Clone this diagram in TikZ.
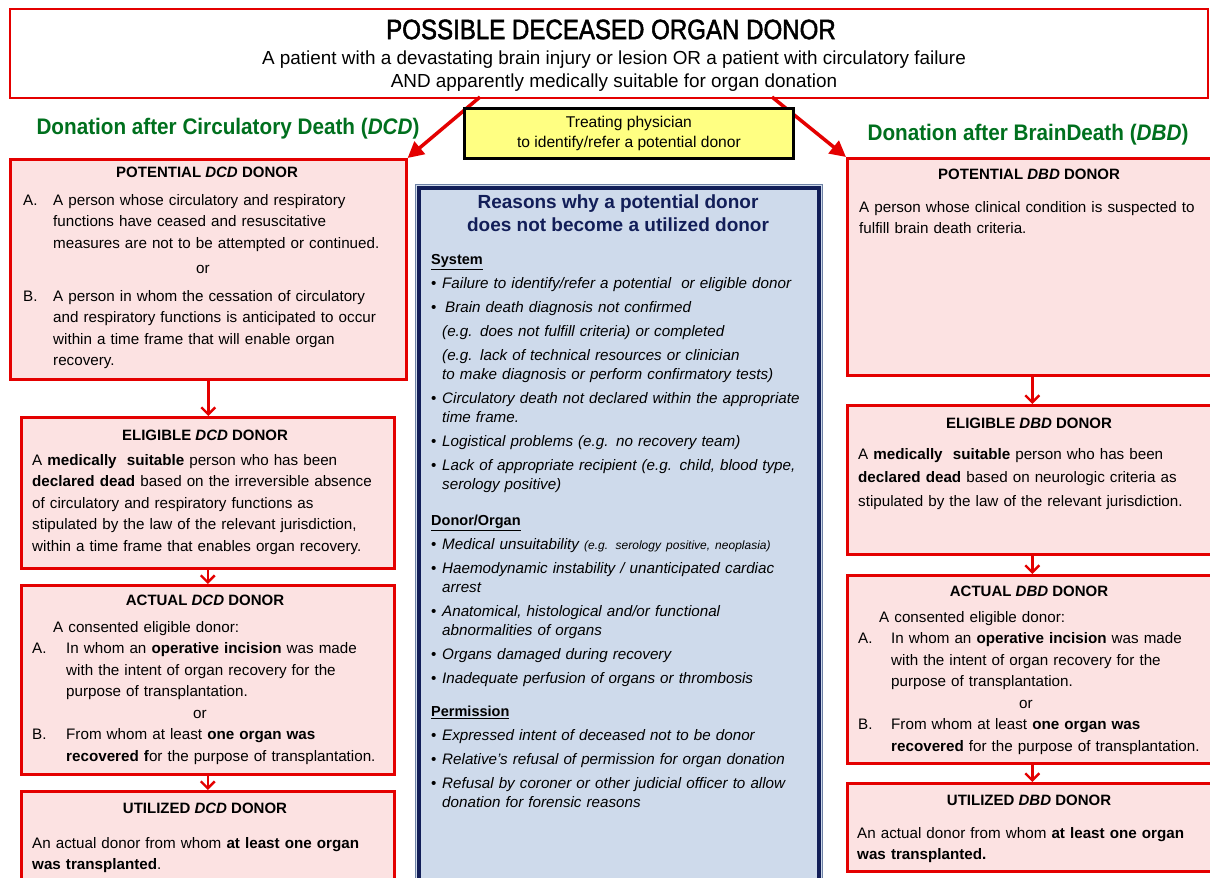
\documentclass[tikz,border=0pt]{standalone}
\usepackage{fontspec}
\setmainfont{Liberation Sans}
\newfontfamily\titlesans{Liberation Sans}[FakeStretch=0.86,FakeBold=1.8]
\newfontfamily\headsans{Liberation Sans}[FakeStretch=0.92]
\usetikzlibrary{arrows.meta,positioning}

\definecolor{donorred}{RGB}{228,0,0}
\definecolor{donorpink}{RGB}{252,226,226}
\definecolor{headgreen}{RGB}{0,112,30}
\definecolor{reasonnavy}{RGB}{18,30,88}
\definecolor{reasonfill}{RGB}{206,218,235}
\definecolor{reasonedge}{RGB}{110,130,165}
\definecolor{physyellow}{RGB}{255,255,130}

\newcommand{\lettered}[2]{\hangindent=#1\hangafter=1\noindent\makebox[#1][l]{#2}}
\newcommand{\bulletpar}{\hangindent=11pt\hangafter=1\noindent\makebox[11pt][l]{\textup{•}}}
\newcommand{\reasonhead}[1]{\noindent{\fontsize{14.5}{19}\selectfont\upshape\bfseries\underline{#1}}\par}

\tikzset{
  donorbox/.style={draw=donorred, line width=2.6pt, fill=donorpink, inner sep=0pt, anchor=north west},
  donortitle/.style={font=\fontsize{15}{18}\selectfont\bfseries, inner sep=0pt},
  donortext/.style={font=\fontsize{15.2}{21.5}\selectfont, inner sep=0pt, anchor=north west, align=left, text width=400pt,
    execute at begin node={\setlength{\parindent}{0pt}\setlength{\parskip}{0pt}}},
  reasontext/.style={font=\fontsize{15.2}{19}\selectfont\itshape, inner sep=0pt, anchor=north west, align=left, text width=392pt,
    execute at begin node={\setlength{\parindent}{0pt}\setlength{\parskip}{5pt}}},
  heading/.style={font=\headsans\fontsize{22.5}{26}\selectfont\bfseries, text=headgreen, inner sep=0pt},
  flowarrow/.style={draw=donorred, line width=2.4pt, -{Straight Barb[length=7pt,width=14pt]}},
  forkarrow/.style={draw=donorred, line width=3.5pt, -{Triangle[length=16pt,width=16pt]}}
}

\begin{document}
\begin{tikzpicture}[x=1pt, y=-1pt]
    \useasboundingbox (0,0) rectangle (1210,878);
    \fill [white] (0,0) rectangle (1210,878);

    \node [draw=donorred, line width=2.4pt, fill=white, minimum width=1198pt, minimum height=89pt, anchor=north west, inner sep=0pt] (possible) at (9,8) {};
    \node [font=\titlesans\fontsize{28}{30}\selectfont, inner sep=0pt] (possibletitle) at (611,29.5) {POSSIBLE DECEASED ORGAN DONOR};
    \node [font=\fontsize{18.9}{23}\selectfont, align=center, inner sep=0pt] (possibletext) at (614,71.5) {A patient with a devastating brain injury or lesion OR a patient with circulatory failure\\AND apparently medically suitable for organ donation};

    \node [heading] (dcdhead) at (228,129) {Donation after Circulatory Death (\textit{DCD})};
    \node [heading] (dbdhead) at (1028,135) {Donation after BrainDeath (\textit{DBD})};

    \node [donorbox, minimum width=396pt, minimum height=220pt] (pdcd) at (9,158) {};
    \node [donorbox, minimum width=373pt, minimum height=151pt] (edcd) at (20,416) {};
    \node [donorbox, minimum width=373pt, minimum height=189pt] (adcd) at (20,584) {};
    \node [donorbox, minimum width=373pt, minimum height=110pt] (udcd) at (20,790) {};

    \node [donorbox, minimum width=370pt, minimum height=217pt] (pdbd) at (846,157) {};
    \node [donorbox, minimum width=370pt, minimum height=149pt] (edbd) at (846,404) {};
    \node [donorbox, minimum width=370pt, minimum height=188pt] (adbd) at (846,574) {};
    \node [donorbox, minimum width=370pt, minimum height=88pt] (udbd) at (846,782) {};

    \draw [flowarrow] (pdcd.south) -- (pdcd.south |- edcd.north);
    \draw [flowarrow] (edcd.south) -- (edcd.south |- adcd.north);
    \draw [flowarrow] (adcd.south) -- (adcd.south |- udcd.north);
    \draw [flowarrow] (pdbd.south) -- (pdbd.south |- edbd.north);
    \draw [flowarrow] (edbd.south) -- (edbd.south |- adbd.north);
    \draw [flowarrow] (adbd.south) -- (adbd.south |- udbd.north);

    \coordinate (dcdfork) at (480,97);
    \coordinate (dbdfork) at (772,97);
    \draw [forkarrow] (dcdfork) -- (pdcd.north east);
    \draw [forkarrow] (dbdfork) -- (pdbd.north west);

    \node [draw=black, line width=2.8pt, fill=physyellow, minimum width=329pt, minimum height=50pt, anchor=north west, inner sep=0pt, align=center, font=\fontsize{15.6}{20}\selectfont] (physician) at (463,107) {Treating physician\\to identify/refer a potential donor};

    \node [draw=reasonedge, line width=1.2pt, fill=reasonfill, minimum width=407pt, minimum height=720pt, anchor=north west, inner sep=0pt] (reasons) at (415,184) {};
    \draw [reasonnavy, line width=4pt] ([shift={(4,4)}]reasons.north west) rectangle ([shift={(-4,-4)}]reasons.south east);
    \node [font=\fontsize{19}{23}\selectfont\bfseries, text=reasonnavy, align=center, inner sep=0pt] (reasonstitle) at (618,213) {Reasons why a potential donor\\does not become a utilized donor};

    \node [donortitle] (pdcdtitle) at (207,172) {POTENTIAL \textit{DCD} DONOR};
    \node [donortext] (pdcdtext) at (23,194) {%
        \lettered{30pt}{A.}A person whose circulatory and respiratory\newline functions have ceased and resuscitative\newline measures are not to be attempted or continued.\par
        \vspace{4pt}\hspace*{173pt}or\par
        \vspace{6pt}\lettered{30pt}{B.}A person in whom the cessation of circulatory\newline and respiratory functions is anticipated to occur\newline within a time frame that will enable organ\newline recovery.\par};

    \node [donortitle] (edcdtitle) at (205,435) {ELIGIBLE \textit{DCD} DONOR};
    \node [donortext] (edcdtext) at (32,454) {A \textbf{medically\ \ suitable} person who has been\\\textbf{declared dead} based on the irreversible absence\\of circulatory and respiratory functions as\\stipulated by the law of the relevant jurisdiction,\\within a time frame that enables organ recovery.};

    \node [donortitle] (adcdtitle) at (205,600) {ACTUAL \textit{DCD} DONOR};
    \node [donortext] (adcdtext) at (32,621) {%
        \hspace*{21pt}A consented eligible donor:\par
        \lettered{34pt}{A.}In whom an \textbf{operative incision} was made\newline with the intent of organ recovery for the\newline purpose of transplantation.\par
        \hspace*{161pt}or\par
        \lettered{34pt}{B.}From whom at least \textbf{one organ was}\newline \textbf{recovered f}or the purpose of transplantation.\par};

    \node [donortitle] (udcdtitle) at (205,808) {UTILIZED \textit{DCD} DONOR};
    \node [donortext] (udcdtext) at (32,837) {An actual donor from whom \textbf{at least one organ}\\\textbf{was transplanted}.};

    \node [donortitle] (pdbdtitle) at (1029,174) {POTENTIAL \textit{DBD} DONOR};
    \node [donortext] (pdbdtext) at (859,201) {A person whose clinical condition is suspected to\\fulfill brain death criteria.};

    \node [donortitle] (edbdtitle) at (1029,423) {ELIGIBLE \textit{DBD} DONOR};
    \node [donortext, font=\fontsize{15.2}{23.4}\selectfont] (edbdtext) at (858,448) {A \textbf{medically\ \ suitable} person who has been\\\textbf{declared dead} based on neurologic criteria as\\stipulated by the law of the relevant jurisdiction.};

    \node [donortitle] (adbdtitle) at (1029,591) {ACTUAL \textit{DBD} DONOR};
    \node [donortext] (adbdtext) at (858,611) {%
        \hspace*{21pt}A consented eligible donor:\par
        \lettered{33pt}{A.}In whom an \textbf{operative incision} was made\newline with the intent of organ recovery for the\newline purpose of transplantation.\par
        \hspace*{161pt}or\par
        \lettered{33pt}{B.}From whom at least \textbf{one organ was}\newline \textbf{recovered} for the purpose of transplantation.\par};

    \node [donortitle] (udbdtitle) at (1029,800) {UTILIZED \textit{DBD} DONOR};
    \node [donortext] (udbdtext) at (857,827) {An actual donor from whom \textbf{at least one organ}\\\textbf{was transplanted.}};

    \node [reasontext] (reasonlist) at (431,254) {%
        \reasonhead{System}
        \bulletpar Failure to identify/refer a potential\ \ or eligible donor\par
        \bulletpar\hspace{3pt}Brain death diagnosis not confirmed\par
        \hspace*{11pt}(e.g. does not fulfill criteria) or completed\par
        \lettered{11pt}{}(e.g. lack of technical resources or clinician\newline to make diagnosis or perform confirmatory tests)\par
        \bulletpar Circulatory death not declared within the appropriate\newline time frame.\par
        \bulletpar Logistical problems (e.g. no recovery team)\par
        \bulletpar Lack of appropriate recipient (e.g. child, blood type,\newline serology positive)\par
        \vspace{12pt}\reasonhead{Donor/Organ}
        \bulletpar Medical unsuitability {\fontsize{12}{19}\selectfont (e.g. serology positive, neoplasia)}\par
        \bulletpar Haemodynamic instability / unanticipated cardiac\newline arrest\par
        \bulletpar Anatomical, histological and/or functional\newline abnormalities of organs\par
        \bulletpar Organs damaged during recovery\par
        \bulletpar Inadequate perfusion of organs or thrombosis\par
        \vspace{9pt}\reasonhead{Permission}
        \bulletpar Expressed intent of deceased not to be donor\par
        \bulletpar Relative’s refusal of permission for organ donation\par
        \bulletpar Refusal by coroner or other judicial officer to allow\newline donation for forensic reasons\par};
\end{tikzpicture}
\end{document}
